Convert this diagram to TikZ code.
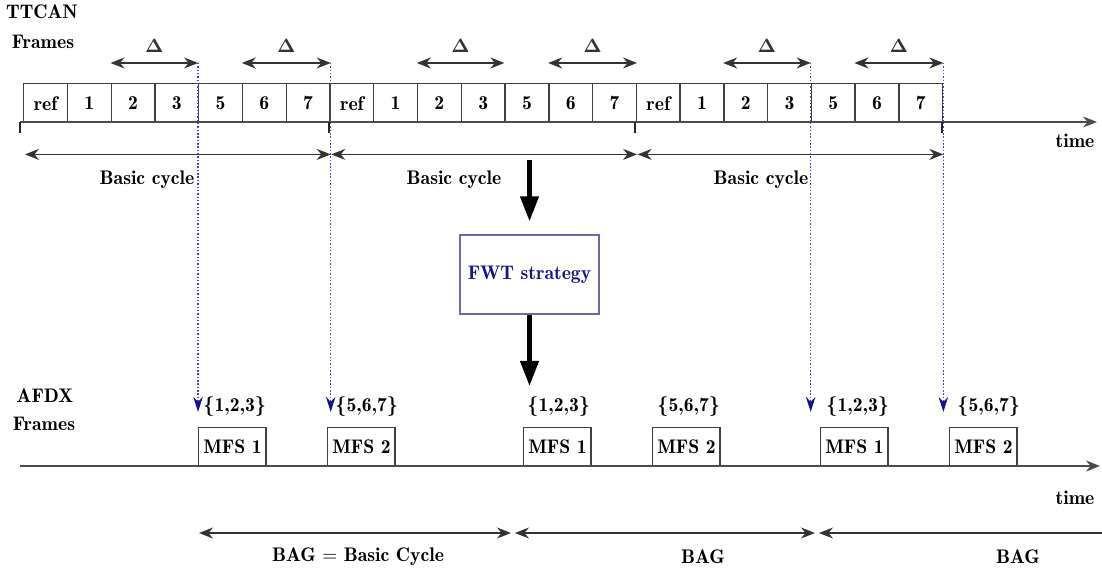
\documentclass[tikz,border=0pt]{standalone}
\usepackage{tikz}
\usetikzlibrary{arrows.meta,calc}

\definecolor{navyblue}{RGB}{20,20,130}
\definecolor{dotblue}{RGB}{70,70,190}
\definecolor{fwtframe}{RGB}{105,105,175}

\begin{document}
\begin{tikzpicture}[x=0.02cm,y=-0.02cm, every node/.style={font=\fontsize{11.2}{13.4}\fontseries{b}\selectfont},
    cell/.style={draw=black!75, line width=0.8pt, minimum width=0.875cm, minimum height=0.78cm, inner sep=0pt, anchor=north west},
    mfs/.style={draw=black!75, line width=0.8pt, minimum width=1.35cm, minimum height=0.76cm, inner sep=0pt, anchor=south west},
    dim/.style={black!80, line width=0.8pt, {Stealth[length=2.8mm,width=2.2mm]}-{Stealth[length=2.8mm,width=2.2mm]}},
    axis/.style={black!70, line width=0.8pt, -{Stealth[length=2.8mm,width=2.2mm]}},
    feed/.style={dotblue, line width=0.8pt, dash pattern=on 0.8pt off 1.1pt, -{Stealth[length=3mm,width=1.9mm,color=navyblue]}},
    bigarrow/.style={line width=2.5pt, -{Triangle[length=5mm,width=3.6mm]}}]
    \useasboundingbox (0,0) rectangle (1102,573);

    \node (ttcan) at (42,12) {TTCAN};
    \node (fr1) at (43,42) {Frames};

    \foreach \c in {0,1,2} {
        \foreach \k/\txt in {0/ref,1/1,2/2,3/3,4/5,5/6,6/7} {
            \node[cell] (c\c\k) at ({23+43.76*(7*\c+\k)},83) {\txt};
        }
    }

    \coordinate (t0) at (20,122);
    \coordinate (t1) at (1097,122);
    \draw[axis] (t0) -- (t1);
    \node (time1) at (1075,141) {time};
    \foreach \x in {20,329,635,942} {
        \draw[black!85, line width=1.3pt] (\x,122) -- (\x,133);
    }

    \foreach \c in {0,1,2} {
        \coordinate (ba\c) at ($(c\c0.south west)+(2,31)$);
        \coordinate (bb\c) at ($(c\c6.south east)+(0,31)$);
        \draw[dim] (ba\c) -- (bb\c);
        \node (bc\c) at ({147+307*\c},180) {Basic cycle};

        \coordinate (da\c) at ($(c\c2.north west)+(0,-20)$);
        \coordinate (db\c) at ($(c\c4.north west)+(0,-20)$);
        \coordinate (dc\c) at ($(c\c5.north west)+(0,-20)$);
        \coordinate (dd\c) at ($(c\c6.north east)+(0,-20)$);
        \draw[dim] (da\c) -- node[above=2pt] (dl\c a) {$\mathbf{\Delta}$} (db\c);
        \draw[dim] (dc\c) -- node[above=2pt] (dl\c b) {$\mathbf{\Delta}$} (dd\c);
    }

    \node[draw=fwtframe, line width=0.8pt, text=navyblue, minimum width=2.78cm, minimum height=1.58cm] (fwt) at (529.5,274.5) {FWT strategy};
    \coordinate (src) at (529.5,160);
    \draw[bigarrow, shorten >=0.26cm] (src) -- (fwt.north);

    \node (afdx) at (45,396) {AFDX};
    \node (fr2) at (44,424) {Frames};

    \foreach \i/\x/\t in {1/198/1,2/327/2,3/523/1,4/652/2,5/820/1,6/949/2} {
        \node[mfs] (m\i) at (\x,466) {MFS \t};
    }
    \foreach \i/\x/\set in {1/197/{1,2,3},2/329/{5,6,7},3/521/{1,2,3},4/651/{5,6,7},5/820/{1,2,3},6/951/{5,6,7}} {
        \node[anchor=west] (s\i) at (\x,407) {\{\set\}};
    }

    \draw[bigarrow, shorten >=0.1cm] (fwt.south) -- (fwt.south |- s3.north);

    \draw[feed] (db0) -- (db0 |- s1.base);
    \draw[feed] (dd0) -- (dd0 |- s2.base);
    \draw[feed] (db2) -- (db2 |- s5.base);
    \draw[feed] (dd2) -- (dd2 |- s6.base);

    \coordinate (a0) at (20,466);
    \coordinate (a1) at (1100,466);
    \draw[axis] (a0) -- (a1);
    \node (time2) at (1075,498) {time};

    \coordinate (g0) at (199,533);
    \coordinate (g1) at (511,533);
    \coordinate (g2) at (515,533);
    \coordinate (g3) at (815,533);
    \coordinate (g4) at (819,533);
    \coordinate (g5) at (1102,533);
    \draw[dim] (g0) -- (g1);
    \draw[dim] (g2) -- (g3);
    \draw[black!80, line width=0.8pt, {Stealth[length=2.8mm,width=2.2mm]}-] (g4) -- (g5);
    \node (bag1) at (358,557) {BAG $=$ Basic Cycle};
    \node (bag2) at (703,557) {BAG};
    \node (bag3) at (1018,557) {BAG};
\end{tikzpicture}
\end{document}
